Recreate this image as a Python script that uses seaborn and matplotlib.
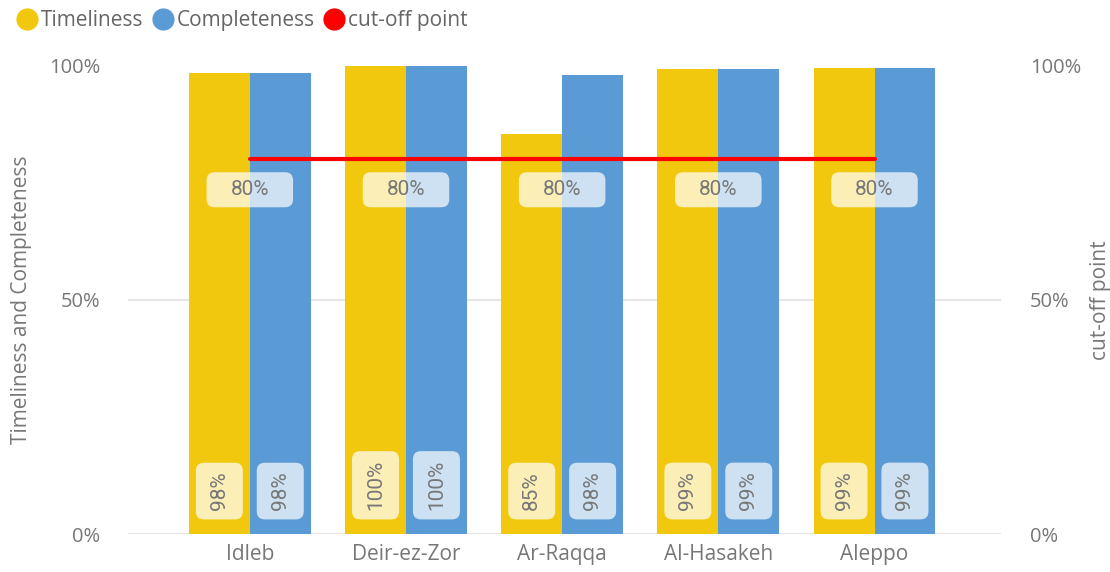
import matplotlib
matplotlib.use("Agg")
import matplotlib.pyplot as plt
import seaborn as sns
import pandas as pd
import numpy as np
from matplotlib.patches import BoxStyle
from matplotlib.lines import Line2D

# ---------------- data ----------------
regions = ["Idleb", "Deir-ez-Zor", "Ar-Raqqa", "Al-Hasakeh", "Aleppo"]
timeliness = [98.4, 100.0, 85.4, 99.3, 99.4]
completeness = [98.4, 100.0, 97.9, 99.3, 99.4]
cutoff = [80, 80, 80, 80, 80]
series_names = ["Timeliness", "Completeness", "cut-off point"]
y_ticks = [0, 50, 100]
y_tick_labels = ["0%", "50%", "100%"]

# ---------------- style ----------------
YELLOW = "#F2C80F"
BLUE = "#5B9BD5"
RED = "#FD0000"
TXT = "#777777"
GRID = "#E6E6E6"

sns.set_theme(style="white")
plt.rcParams["font.family"] = ["Open Sans", "DejaVu Sans"]

df = pd.DataFrame({
    "Region": regions * 2,
    "Measure": [series_names[0]] * len(regions) + [series_names[1]] * len(regions),
    "Value": timeliness + completeness,
})

W, H = 1110, 572
fig = plt.figure(figsize=(W / 100, H / 100), dpi=100)
ax = fig.add_axes([128 / W, 38 / H, 873 / W, 468.5 / H])

sns.barplot(data=df, x="Region", y="Value", hue="Measure",
            palette=[YELLOW, BLUE], width=0.78, saturation=1,
            errorbar=None, legend=False, ax=ax, zorder=2,
            linewidth=0, edgecolor="none")

ax.set_xlim(-0.78, 4.81)
ax.set_ylim(0, 100)
ax.set_yticks(y_ticks)
ax.set_yticklabels(y_tick_labels)
ax.yaxis.grid(True, color=GRID, lw=1.5, zorder=0)
ax.set_axisbelow(True)
for s in ax.spines.values():
    s.set_visible(False)
ax.tick_params(axis="y", length=0, pad=20, labelsize=14.5, labelcolor=TXT)
ax.tick_params(axis="x", length=0, pad=7, labelsize=15, labelcolor=TXT)
ax.set_xlabel("")
ax.set_ylabel("Timeliness and Completeness", fontsize=15, color=TXT, labelpad=12)


def padded_round(px, py, r):
    def style(x0, y0, width, height, mutation_size):
        return BoxStyle.Round(pad=0, rounding_size=r / mutation_size)(
            x0 - px, y0 - py, width + 2 * px, height + 2 * py, mutation_size)
    return style


# bar value labels (inside base, rotated)
for cont, vals in zip(ax.containers, [timeliness, completeness]):
    for bar, v in zip(cont, vals):
        ax.annotate(f"{v:.0f}%", xy=(bar.get_x() + bar.get_width() / 2, 0),
                    xytext=(0, 17), textcoords="offset points",
                    rotation=90, ha="center", va="bottom",
                    fontsize=15, color=TXT, family=["Roboto", "DejaVu Sans"],
                    bbox=dict(boxstyle=padded_round(9, 14, 8), fc="white",
                              ec="none", alpha=0.7),
                    zorder=5)

# secondary axis with cut-off line
ax2 = ax.twinx()
sns.lineplot(x=np.arange(len(regions)), y=cutoff, ax=ax2, color=RED,
             lw=3, solid_capstyle="round", zorder=4)
ax2.set_ylim(0, 100)
ax2.set_yticks(y_ticks)
ax2.set_yticklabels(y_tick_labels)
for s in ax2.spines.values():
    s.set_visible(False)
ax2.tick_params(axis="y", length=0, pad=21, labelsize=14.5, labelcolor=TXT)
ax2.set_ylabel("cut-off point", fontsize=15, color=TXT, labelpad=6)
ax2.grid(False)

for i, v in enumerate(cutoff):
    ax2.annotate(f"{v:.0f}%", xy=(i, v), xytext=(0, -22), textcoords="offset points",
                 ha="center", va="center", fontsize=15, color=TXT,
                 family=["Roboto", "DejaVu Sans"],
                 bbox=dict(boxstyle=padded_round(24, 8, 8), fc="white",
                           ec="none", alpha=0.7),
                 zorder=6)

# legend
handles = [Line2D([0], [0], marker="o", ls="none", markersize=15,
                  markerfacecolor=c, markeredgecolor=c)
           for c in [YELLOW, BLUE, RED]]
leg = fig.legend(handles, series_names, loc="upper left",
                 bbox_to_anchor=(-0.002, 1.008), ncol=3, frameon=False,
                 fontsize=15, handletextpad=-0.05, columnspacing=0.25,
                 handlelength=1.4, borderaxespad=0.3)
for t in leg.get_texts():
    t.set_color("#666666")

fig.savefig("out.png", dpi=100)
